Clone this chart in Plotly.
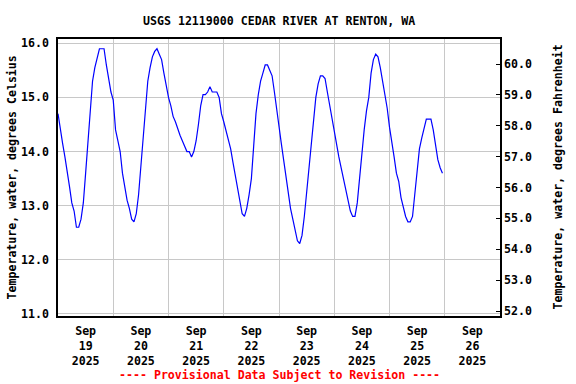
import pandas as pd
import plotly.graph_objects as go

# ---------------- data (hourly readings, deg C) ----------------
start_time = "2025-09-19 00:00"
temps_c = [
    # Sep 19
    14.7, 14.4, 14.15, 13.9, 13.65, 13.35, 13.05, 12.9, 12.6, 12.6, 12.75, 13.05,
    13.6, 14.15, 14.7, 15.3, 15.55, 15.75, 15.9, 15.9, 15.9, 15.6, 15.35, 15.1,
    # Sep 20
    14.95, 14.4, 14.2, 14.0, 13.6, 13.35, 13.1, 12.95, 12.75, 12.7, 12.85, 13.2,
    13.7, 14.25, 14.8, 15.3, 15.55, 15.75, 15.85, 15.9, 15.8, 15.7, 15.45, 15.2,
    # Sep 21
    15.0, 14.85, 14.65, 14.55, 14.4, 14.3, 14.2, 14.1, 14.0, 14.0, 13.9, 14.0,
    14.2, 14.5, 14.85, 15.05, 15.05, 15.1, 15.2, 15.1, 15.1, 15.1, 15.0, 14.7,
    # Sep 22
    14.55, 14.4, 14.2, 14.05, 13.8, 13.55, 13.3, 13.05, 12.85, 12.8, 12.95, 13.2,
    13.5, 14.1, 14.7, 15.05, 15.3, 15.45, 15.6, 15.6, 15.5, 15.4, 15.1, 14.75,
    # Sep 23
    14.45, 14.15, 13.85, 13.55, 13.2, 12.95, 12.75, 12.55, 12.35, 12.3, 12.45, 12.8,
    13.25, 13.75, 14.2, 14.65, 15.0, 15.25, 15.4, 15.4, 15.35, 15.1, 14.85, 14.6,
    # Sep 24
    14.35, 14.15, 13.9, 13.7, 13.5, 13.3, 13.1, 12.9, 12.8, 12.8, 13.05, 13.5,
    14.0, 14.4, 14.75, 15.0, 15.45, 15.7, 15.8, 15.75, 15.55, 15.3, 15.05, 14.8,
    # Sep 25
    14.45, 14.2, 13.9, 13.6, 13.45, 13.15, 12.95, 12.8, 12.7, 12.7, 12.8, 13.2,
    13.7, 14.05, 14.25, 14.45, 14.6, 14.6, 14.6, 14.4, 14.15, 13.85, 13.7, 13.6,
]
times = pd.date_range(start_time, periods=len(temps_c), freq="h")

day_label_dates = ["2025-09-19 12:00", "2025-09-20 12:00", "2025-09-21 12:00",
                   "2025-09-22 12:00", "2025-09-23 12:00", "2025-09-24 12:00",
                   "2025-09-25 12:00", "2025-09-26 12:00"]
day_labels = ["Sep<br>19<br>2025", "Sep<br>20<br>2025", "Sep<br>21<br>2025",
              "Sep<br>22<br>2025", "Sep<br>23<br>2025", "Sep<br>24<br>2025",
              "Sep<br>25<br>2025", "Sep<br>26<br>2025"]
x_range = ["2025-09-19 00:00", "2025-09-27 00:00"]
c_range = [10.96, 16.08]
f_range = [51.84, 60.81]

title = "USGS 12119000 CEDAR RIVER AT RENTON, WA"
left_title = "Temperature, water, degrees Celsius"
right_title = "Temperature, water, degrees Fahrenheit"
note = "---- Provisional Data Subject to Revision ----"

FONT = "DejaVu Sans Mono"
FS = 11.6

fig = go.Figure()
fig.add_trace(go.Scatter(x=times, y=temps_c, mode="lines",
                         line=dict(color="#0000ff", width=1.2),
                         showlegend=False, hoverinfo="x+y"))
# Fahrenheit companion (invisible) so the right axis is drawn
fig.add_trace(go.Scatter(x=times, y=[c * 9 / 5 + 32 for c in temps_c], yaxis="y2",
                         mode="lines", line=dict(width=0), opacity=0,
                         showlegend=False, hoverinfo="skip"))

font = dict(family=FONT, size=FS, color="black", weight="bold")

fig.update_layout(
    width=576, height=384,
    margin=dict(l=58, r=76, t=39, b=68),
    paper_bgcolor="white", plot_bgcolor="white",
    font=font,
    xaxis=dict(range=x_range, type="date",
               tickmode="array", tickvals=day_label_dates, ticktext=day_labels,
               showgrid=False, ticks="outside", ticklen=3, tickcolor="rgba(0,0,0,0)",
               tickfont=font,
               minor=dict(tick0="2025-09-19", dtick=86400000, showgrid=True,
                          gridcolor="#c8c8c8", gridwidth=1, ticks=""),
               showline=True, linecolor="black", linewidth=1.5, mirror=True,
               zeroline=False, fixedrange=True),
    yaxis=dict(range=c_range, dtick=1, tick0=11, tickformat=".1f",
               showgrid=True, gridcolor="#c8c8c8", gridwidth=1,
               ticks="outside", ticklen=5, tickcolor="rgba(0,0,0,0)",
               tickfont=font,
               showline=True, linecolor="black", linewidth=1.5, mirror=True,
               zeroline=False),
    yaxis2=dict(range=f_range, dtick=1, tick0=52, tickformat=".1f",
                overlaying="y", side="right", anchor="x",
                showgrid=False, ticks="inside", ticklen=4, tickcolor="black",
                ticklabelstandoff=3,
                tickfont=font, showline=False, zeroline=False),
    annotations=[
        dict(text=title, x=0.5, y=1, xref="paper", yref="paper", showarrow=False,
             font=font, yanchor="middle"),
        dict(text=left_title, xref="paper", yref="paper", x=0, y=0.5,
             xshift=-47, showarrow=False, textangle=-90, font=font,
             xanchor="center", yanchor="middle"),
        dict(text=right_title, xref="paper", yref="paper", x=1, y=0.5,
             xshift=57, showarrow=False, textangle=-90, font=font,
             xanchor="center", yanchor="middle"),
        dict(text=note, xref="paper", yref="paper", x=0.5, y=0,
             yshift=-59, showarrow=False,
             font=dict(family=FONT, size=FS, color="#ff0000", weight="bold"),
             xanchor="center", yanchor="middle"),
    ],
)
# title positioned in pixels: convert y to paper coords
plot_h = 384 - 39 - 68
fig.layout.annotations[0].y = 1 + (39 - 21) / plot_h

fig.write_html("out.html", config={"displayModeBar": False},
               post_script="document.body.style.margin='0';document.body.style.overflow='hidden';")
